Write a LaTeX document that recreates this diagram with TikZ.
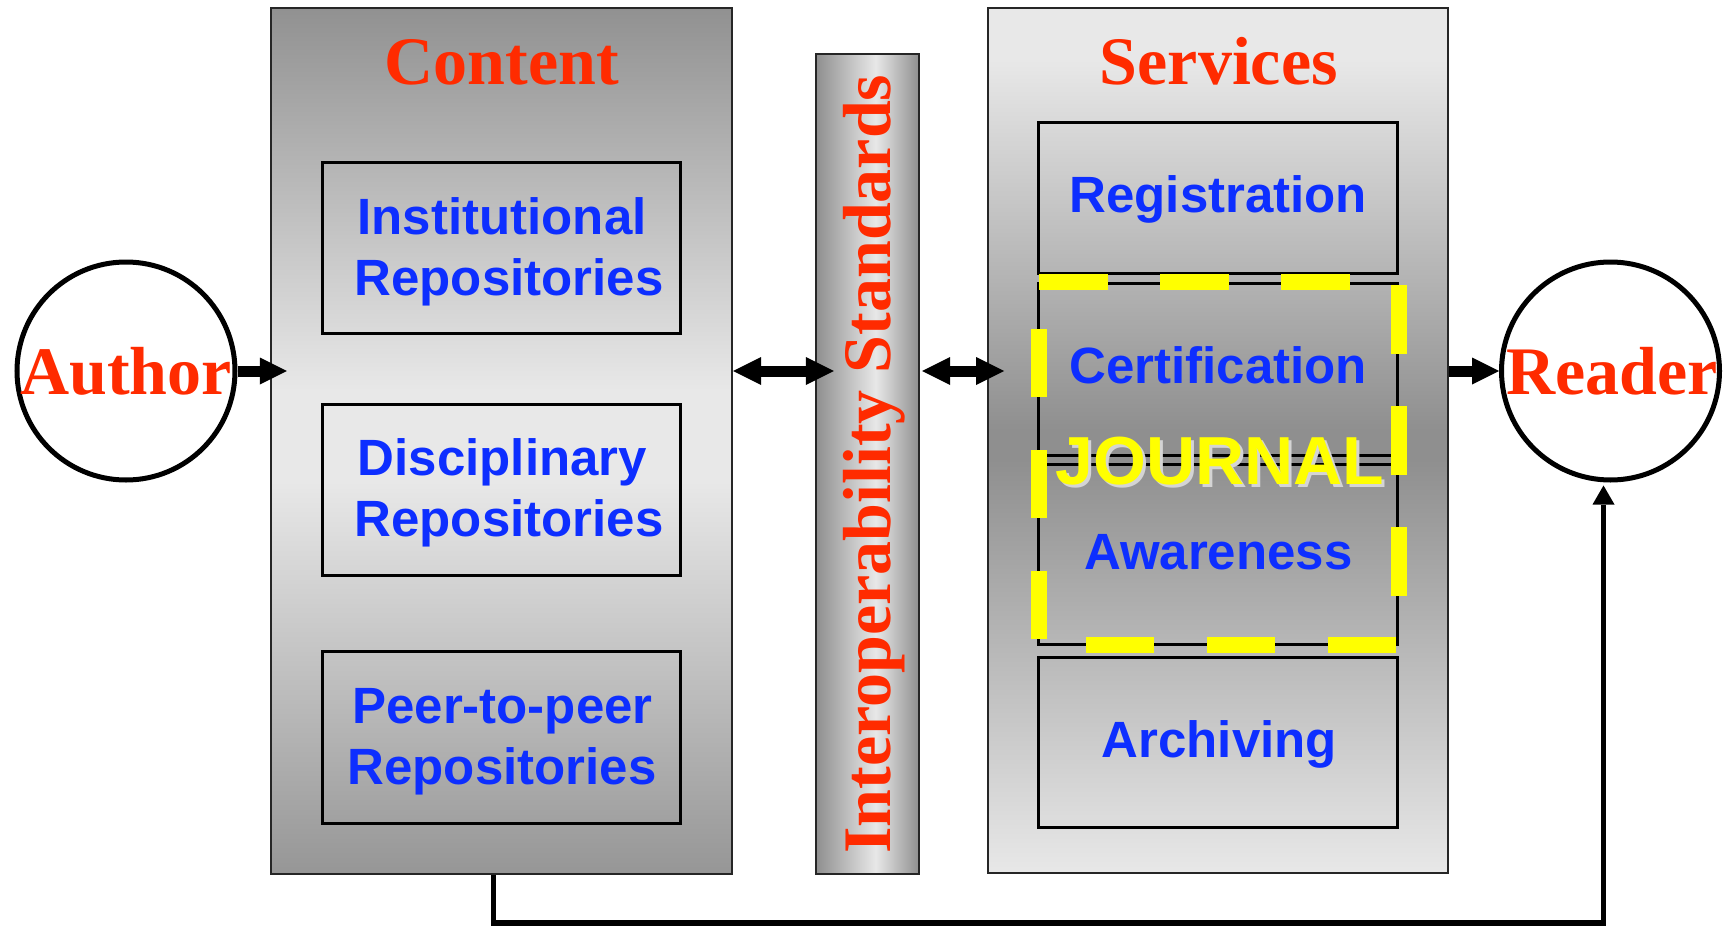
\documentclass[tikz,border=0pt]{standalone}
\usepackage{fontspec}
\setmainfont{Liberation Serif}
\newfontfamily\hvfont{Liberation Sans}
\usetikzlibrary{arrows.meta}
\definecolor{redtxt}{HTML}{FF2B00}
\definecolor{bluetxt}{HTML}{0D2EFF}
\definecolor{gdark}{HTML}{8F8F8F}
\definecolor{gtop}{HTML}{919191}
\definecolor{gbot}{HTML}{969696}
\definecolor{glight}{HTML}{E8E8E8}
\definecolor{jyellow}{HTML}{FFFF00}
\definecolor{jshadowc}{HTML}{D4D4D4}
\pgfdeclareverticalshading{contshade}{100bp}{color(0bp)=(gbot); color(25bp)=(gbot); color(47.7bp)=(glight); color(52.9bp)=(glight); color(75bp)=(gtop); color(100bp)=(gtop)}
\pgfdeclareverticalshading{servshade}{100bp}{color(0bp)=(glight); color(25bp)=(glight); color(48.9bp)=(gdark); color(50.6bp)=(gdark); color(72bp)=(glight); color(100bp)=(glight)}
\pgfdeclarehorizontalshading{barshade}{100bp}{color(0bp)=(gdark); color(25bp)=(gdark); color(54bp)=(glight); color(75bp)=(gdark); color(100bp)=(gdark)}
\begin{document}
\begin{tikzpicture}[x=1pt,y=-1pt,
  outerbox/.style={draw=black!85, line width=2.3pt, inner sep=0pt},
  innerbox/.style={draw=black, line width=3pt, inner sep=0pt},
  person/.style={circle, draw=black, line width=5pt, fill=white, minimum size=218pt, inner sep=0pt},
  redlbl/.style={text=redtxt, font=\fontsize{68}{68}\selectfont\bfseries, inner sep=0pt},
  bluelbl/.style={text=bluetxt, font=\hvfont\fontsize{51}{51}\selectfont\bfseries, inner sep=0pt, anchor=base},
  jlbl/.style={font=\hvfont\fontsize{68}{68}\selectfont\bfseries, inner sep=0pt, anchor=base},
  blockarrow/.style={line width=11pt, -{Triangle[length=27pt,width=27pt,line width=0pt]}},
  dblarrow/.style={line width=11pt, {Triangle[length=28pt,width=28pt,line width=0pt]}-{Triangle[length=28pt,width=28pt,line width=0pt]}},
  feedback/.style={line width=5.5pt, -{Triangle[length=19pt,width=22pt,line width=0pt]}},
  jframe/.style={draw=jyellow, line width=16.5pt, dash pattern=on 68.5pt off 52.5pt},
]
\useasboundingbox (0,0) rectangle (1735,926);

% main columns
\node[outerbox, shading=contshade, minimum width=461pt, minimum height=866pt] (content) at (501.5,441) {};
\node[outerbox, shading=barshade, minimum width=103pt, minimum height=820pt] (bar) at (867.5,464) {};
\node[outerbox, shading=servshade, minimum width=460pt, minimum height=865pt] (services) at (1218.2,440.5) {};

% inner boxes
\node[innerbox, minimum width=358.5pt, minimum height=171pt] (inst) at (501.3,247.5) {};
\node[innerbox, minimum width=358.5pt, minimum height=171pt] (disc) at (501.3,489.5) {};
\node[innerbox, minimum width=358.5pt, minimum height=172pt] (peer) at (501.3,737) {};
\node[innerbox, minimum width=358.5pt, minimum height=151pt] (reg) at (1218.2,197.5) {};
\node[innerbox, minimum width=358.5pt, minimum height=172pt] (cert) at (1218.2,369) {};
\node[innerbox, minimum width=358.5pt, minimum height=180pt] (aware) at (1218.2,554) {};
\node[innerbox, minimum width=358.5pt, minimum height=170pt] (arch) at (1218.2,742) {};

% titles
\node[redlbl, anchor=base] (contenttxt) at (502,84) {Content};
\node[redlbl, anchor=base] (servicestxt) at (1218.8,84) {Services};
\node[redlbl, rotate=90, anchor=base] (istxt) at (890,464) {Interoperability Standards};

% blue labels
\node[bluelbl] (insttxta) at (502,234) {Institutional};
\node[bluelbl] (insttxtb) at (509,295) {Repositories};
\node[bluelbl] (disctxta) at (502.5,475) {Disciplinary};
\node[bluelbl] (disctxtb) at (509,536) {Repositories};
\node[bluelbl] (peertxta) at (502.5,723) {Peer-to-peer};
\node[bluelbl] (peertxtb) at (502,784) {Repositories};
\node[bluelbl] (regtxt) at (1218.3,212) {Registration};
\node[bluelbl] (certtxt) at (1218.3,383) {Certification};
\node[bluelbl] (awaretxt) at (1218.3,569) {Awareness};
\node[bluelbl] (archtxt) at (1219.4,757) {Archiving};

% journal frame
\draw[jframe] (1039,282) -- (1399,282) -- (1399,645) -- (1039,645) -- cycle;
\node[jlbl, text=jshadowc] (jshadow) at (1223,487) {JOURNAL};
\node[jlbl, text=jyellow] (journal) at (1220,484) {JOURNAL};

% people
\node[person] (author) at (126,371) {};
\node[person] (reader) at (1610.5,371) {};
\node[redlbl] (authortxt) at (author.center) {Author};
\node[redlbl] (readertxt) at ([xshift=1.5pt]reader.center) {Reader};

% connectors
\coordinate (cin) at ([xshift=17pt]author.east -| content.west);
\draw[blockarrow] (author.east) -- (cin);
\draw[dblarrow] (author.east -| content.east) -- ([xshift=19pt]author.east -| bar.west);
\draw[dblarrow] ([xshift=2pt]author.east -| bar.east) -- ([xshift=17pt]author.east -| services.west);
\draw[blockarrow] (author.east -| services.east) -- (reader.west);
\draw[feedback] ([xshift=-8pt]content.south) -- ++(0,48) -| ([xshift=-7pt,yshift=-3pt]reader.south);
\end{tikzpicture}
\end{document}
